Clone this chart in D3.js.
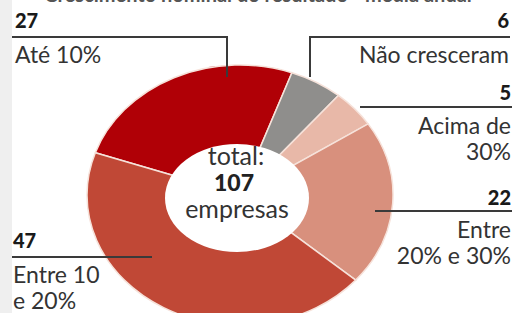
<!DOCTYPE html>
<html>
<head>
<meta charset="utf-8">
<script src="https://cdn.jsdelivr.net/npm/d3@7"></script>
<style>
  body { margin: 0; background: #fff; }
  svg { display: block; font-family: Lato, "Open Sans", sans-serif; }
</style>
</head>
<body>
<svg id="chart" width="518" height="313"></svg>
<script>
const categories = ["Até 10%", "Não cresceram", "Acima de 30%", "Entre 20% e 30%", "Entre 10 e 20%"];
const values = [27, 6, 5, 22, 47];
const colors = ["#b00006", "#8f8e8c", "#e8b8a8", "#d8907d", "#c04836"];
const totalLabel = ["total:", "107", "empresas"];
const title = "Crescimento nominal do resultado - média anual";

const width = 518, height = 313;
const cx = 240, cy = 195, radius = 153, squash = 0.85;

const svg = d3.select("#chart");

// gray strip on the left edge
svg.append("rect").attr("x", 0).attr("y", 0).attr("width", 12).attr("height", height).attr("fill", "#efefef");

// title, cut off at the top
svg.append("text").attr("x", 258).attr("y", 2).attr("text-anchor", "middle")
  .attr("font-size", 20).attr("font-weight", 700).attr("fill", "#555").text(title);

const pie = d3.pie().sort(null)
  .startAngle(-71 * Math.PI / 180)
  .endAngle(289 * Math.PI / 180);
const arc = d3.arc().innerRadius(0).outerRadius(radius);

const donut = svg.append("g").attr("transform", `translate(${cx},${cy}) scale(1,${squash})`);
donut.selectAll("path").data(pie(values)).enter().append("path")
  .attr("d", arc)
  .attr("fill", (d, i) => colors[i])
  .attr("stroke", "#f6e2da")
  .attr("stroke-width", 1.5)
  .attr("vector-effect", "non-scaling-stroke");

// white hole with total
svg.append("ellipse").attr("cx", 237).attr("cy", 198).attr("rx", 72).attr("ry", 54).attr("fill", "#fff");
const center = svg.append("g").attr("text-anchor", "middle").attr("fill", "#333");
center.append("text").attr("x", 236).attr("y", 165).attr("font-size", 25).text(totalLabel[0]);
center.append("text").attr("x", 234).attr("y", 191).attr("font-size", 23).attr("font-weight", 900).attr("fill", "#222").text(totalLabel[1]);
center.append("text").attr("x", 237).attr("y", 218).attr("font-size", 25).text(totalLabel[2]);

// callouts
const lineColor = "#3a3a3a";
const labels = [
  { num: 0, x: 15, anchor: "start", numY: 28, lines: ["Até 10%"], textY: 63,
    path: [[12, 37], [227, 37], [227, 77]] },
  { num: 1, x: 509, anchor: "end", numY: 28, lines: ["Não cresceram"], textY: 63,
    path: [[310, 77], [310, 37], [510, 37]] },
  { num: 2, x: 511, anchor: "end", numY: 100, lines: ["Acima de", "30%"], textY: 134,
    path: [[360, 107], [512, 107]] },
  { num: 3, x: 511, anchor: "end", numY: 205, lines: ["Entre", "20% e 30%"], textY: 238,
    path: [[375, 211], [512, 211]] },
  { num: 4, x: 13, anchor: "start", numY: 248, lines: ["Entre 10", "e 20%"], textY: 283,
    path: [[12, 257], [152, 257]] }
];

const line = d3.line();
labels.forEach(l => {
  svg.append("path").attr("d", line(l.path)).attr("fill", "none")
    .attr("stroke", lineColor).attr("stroke-width", 2);
  svg.append("text").attr("x", l.x).attr("y", l.numY).attr("text-anchor", l.anchor)
    .attr("font-size", 20).attr("font-weight", 900).attr("fill", "#1a1a1a").text(values[l.num]);
  l.lines.forEach((t, j) => {
    svg.append("text").attr("x", l.x).attr("y", l.textY + j * 26).attr("text-anchor", l.anchor)
      .attr("font-size", 23).attr("fill", "#333").text(t);
  });
});
</script>
</body>
</html>
